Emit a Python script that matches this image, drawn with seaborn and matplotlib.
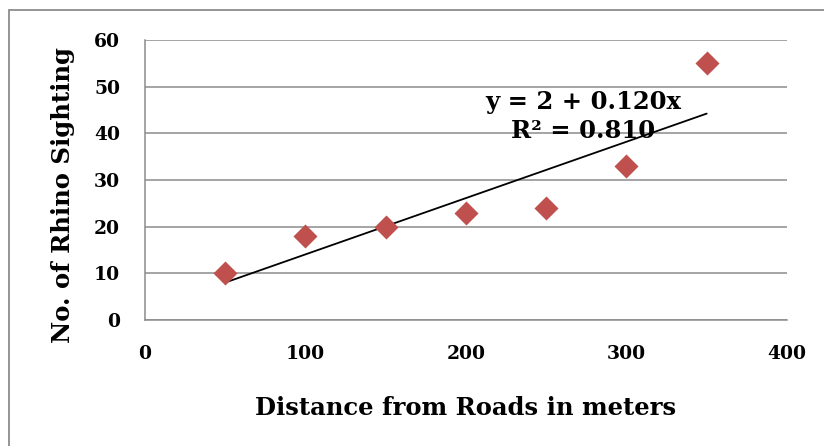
import pandas as pd
import seaborn as sns
import matplotlib.pyplot as plt
from matplotlib.patches import Rectangle

# distance from roads (m) and number of rhino sightings
distance = [50, 100, 150, 200, 250, 300, 350]
sightings = [10, 18, 20, 23, 24, 33, 55]

x_ticks = [0, 100, 200, 300, 400]
y_ticks = [0, 10, 20, 30, 40, 50, 60]

trend_label = "y = 2 + 0.120x\nR² = 0.810"

df = pd.DataFrame({"distance": distance, "sightings": sightings})

sns.set_style("white")
plt.rcParams["font.family"] = ["DejaVu Serif"]
plt.rcParams["font.weight"] = "bold"
plt.rcParams["text.color"] = "black"

GRID = "#8c8c8c"
RED = "#c0504d"

fig = plt.figure(figsize=(8.24, 4.46), dpi=100)
ax = fig.add_axes([0.176, 0.2825, 0.779, 0.6275])

# outer chart border (Excel style)
fig.patches.append(Rectangle((0.011, -0.05), 1.2, 1.028, transform=fig.transFigure,
                             fill=False, edgecolor="#8c8c8c", linewidth=1.3))

sns.regplot(data=df, x="distance", y="sightings", ax=ax, scatter=False, ci=None,
            color="black", line_kws={"linewidth": 1.3})
sns.scatterplot(data=df, x="distance", y="sightings", ax=ax, marker="D", s=150,
                color=RED, edgecolor=RED, linewidth=0, zorder=4)

ax.text(273, 43.7, trend_label, ha="center", va="center", fontsize=17.5,
        fontweight="bold", color="black", linespacing=1.25, zorder=5)

ax.set_xlim(0, 400)
ax.set_ylim(0, 60)
ax.set_xticks(x_ticks)
ax.set_yticks(y_ticks)
ax.yaxis.grid(True, color=GRID, linewidth=1.1)
ax.set_axisbelow(True)
sns.despine(ax=ax)
for s in ["left", "bottom"]:
    ax.spines[s].set_color(GRID)
    ax.spines[s].set_linewidth(1.1)
ax.tick_params(axis="both", direction="out", length=6, width=1.1, color=GRID,
               labelsize=13.5, labelcolor="black")
ax.tick_params(axis="x", pad=12)
ax.tick_params(axis="y", pad=12)
for lab in ax.get_xticklabels() + ax.get_yticklabels():
    lab.set_fontweight("bold")

ax.set_xlabel("Distance from Roads in meters", fontsize=17.5, fontweight="bold",
              color="black", labelpad=24)
ax.set_ylabel("No. of Rhino Sighting", fontsize=17.5, fontweight="bold",
              color="black")
ax.yaxis.set_label_coords(-0.109, 0.446)

fig.savefig("out.png", dpi=100)
